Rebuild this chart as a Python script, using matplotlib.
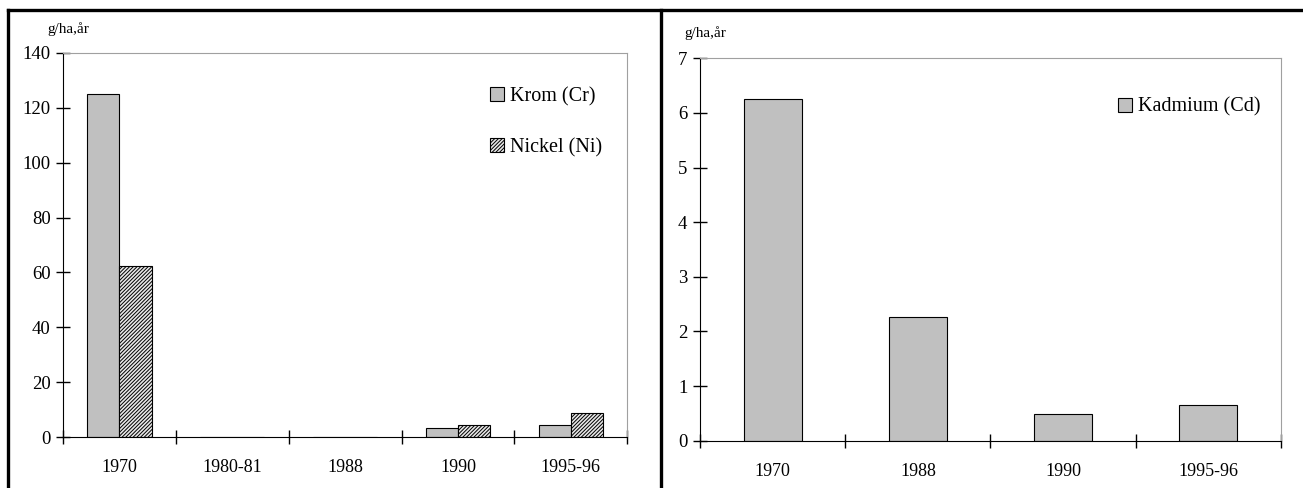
import numpy as np
import matplotlib.pyplot as plt
from matplotlib.lines import Line2D

plt.rcParams['font.family'] = ['Liberation Serif', 'DejaVu Serif']
plt.rcParams['hatch.linewidth'] = 0.7

# left panel data
years_left = ["1970", "1980-81", "1988", "1990", "1995-96"]
krom = [125, 0, 0, 3.3, 4.3]
nickel = [62.5, 0, 0, 4.5, 8.8]

# right panel data
years_right = ["1970", "1988", "1990", "1995-96"]
kadmium = [6.25, 2.27, 0.48, 0.65]

unit = "g/ha,år"
grey = "#c0c0c0"

fig = plt.figure(figsize=(13.03, 4.88), dpi=100)
ax1 = fig.add_axes([0.0484, 0.1045, 0.4329, 0.7870])
ax2 = fig.add_axes([0.5372, 0.0969, 0.4459, 0.7836])


def style_axes(ax, labels, ymax, ystep):
    n = len(labels)
    ax.set_xlim(0, n)
    ax.set_ylim(0, ymax)
    ax.set_yticks(np.arange(0, ymax + ystep / 2, ystep))
    ax.set_xticks(np.arange(0, n + 1))
    ax.set_xticklabels([])
    ax.set_xticks(np.arange(n) + 0.5, minor=True)
    ax.set_xticklabels(labels, minor=True)
    ax.tick_params(axis="x", which="major", direction="inout", length=10, width=1)
    ax.tick_params(axis="x", which="minor", length=0, pad=16, labelsize=13)
    ax.tick_params(axis="y", direction="inout", length=10, width=1, pad=4, labelsize=13.5)
    for s in ["top", "right"]:
        ax.spines[s].set_color("#a0a0a0")
    for s in ["left", "bottom"]:
        ax.spines[s].set_color("black")
    ax.set_facecolor("white")


# left chart: Krom and Nickel
x = np.arange(len(years_left)) + 0.5
w = 0.285
ax1.bar(x - w / 2, krom, w, color=grey, edgecolor="black", linewidth=0.8, label="Krom (Cr)")
ax1.bar(x + w / 2, nickel, w, color="#e8e8e8", edgecolor="black", hatch="/////////",
        linewidth=0.8, label="Nickel (Ni)")
style_axes(ax1, years_left, 140, 20)
ax1.legend(loc="upper left", bbox_to_anchor=(0.757, 0.912), frameon=False, fontsize=14.5,
           handlelength=0.7, handleheight=0.7, handletextpad=0.3, labelspacing=1.6,
           borderpad=0, borderaxespad=0)
fig.text(0.036, 0.94, unit, fontsize=11, ha="left", va="center")

# right chart: Kadmium
x2 = np.arange(len(years_right)) + 0.5
ax2.bar(x2, kadmium, 0.4, color=grey, edgecolor="black", linewidth=0.8, label="Kadmium (Cd)")
style_axes(ax2, years_right, 7, 1)
ax2.legend(loc="upper left", bbox_to_anchor=(0.719, 0.897), frameon=False, fontsize=14.5,
           handlelength=0.7, handleheight=0.7, handletextpad=0.3,
           borderpad=0, borderaxespad=0)
fig.text(0.525, 0.932, unit, fontsize=11, ha="left", va="center")

# outer frame lines
fig.add_artist(Line2D([0.0061, 1.0], [0.9795, 0.9795], color="black", lw=2.4))
fig.add_artist(Line2D([0.0061, 0.0061], [0.0, 0.9795], color="black", lw=2.4))
fig.add_artist(Line2D([0.5073, 0.5073], [0.0, 0.9795], color="black", lw=2.4))

fig.savefig("out.png", dpi=100, facecolor="white")
